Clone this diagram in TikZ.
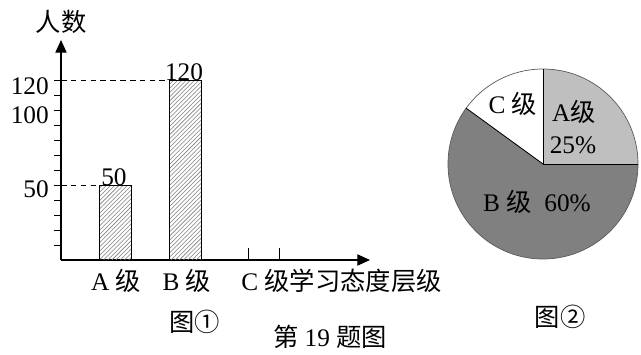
\documentclass[tikz,border=0pt]{standalone}
\usepackage{fontspec}
\setmainfont{Liberation Serif}
\newfontfamily\cjk{Noto Sans CJK SC}
\usetikzlibrary{calc,arrows,arrows.meta,positioning,patterns}

\begin{document}
\begin{tikzpicture}[x=0.025cm,y=-0.025cm,
  every node/.style={font=\fontsize{18}{20}\selectfont, inner sep=0pt},
  axis/.style={line width=0.8pt, -{Triangle[width=8pt,length=9pt]}},
  bar/.style={draw, line width=0.6pt, pattern=north east lines, pattern color=gray},
  guide/.style={dash pattern=on 4pt off 3pt, line width=0.5pt},
  tick/.style={line width=0.6pt}]

  \useasboundingbox (0,0) rectangle (641,355);

  % axes
  \coordinate (origin) at (61,260);
  \coordinate (ytip) at (61,40);
  \coordinate (xtip) at (370,260);
  \draw [axis] (origin) -- (ytip);
  \draw [axis] (origin) -- (xtip);
  \node (ylabel) at (61,22) {\cjk 人数};

  \foreach \v in {1,...,12}
  {
    \draw [tick] ($(origin)+(-7,-15*\v)$) -- ($(origin)+(0,-15*\v)$);
  }
  \node [anchor=east] (yval_120) at (49,86) {120};
  \node [anchor=east] (yval_100) at (49,115) {100};
  \node [anchor=east] (yval_50) at (49,189) {50};

  \foreach \x in {248,279}
  {
    \draw [tick] (\x,260) -- (\x,248);
  }

  % bars
  \foreach \n/\xl/\val in {a/99/50, b/169/120}
  {
    \coordinate (bar_\n_top) at (\xl,{260-1.5*\val});
    \draw [bar] (\xl,260) rectangle ($(bar_\n_top)+(32,0)$);
    \draw [guide] (61,{260-1.5*\val}) -- (bar_\n_top);
    \node [anchor=south] (bar_\n_label) at ($(bar_\n_top)+(15,1)$) {\val};
  }

  \node (xlabel_a) at (116,281) {A {\cjk 级}};
  \node (xlabel_b) at (187,281) {B {\cjk 级}};
  \node [anchor=west] (xlabel_c) at (241,281) {C {\cjk 级学习态度层级}};

  \node (caption_1) at (195,322) {\cjk 图①};
  \node (caption) at (330,337) {{\cjk 第} 19 {\cjk 题图}};

  % pie
  \begin{scope}[shift={(543,164)}, y=0.025cm]
    \fill [gray!50] (0,0) -- (90:95) arc [start angle=90, end angle=0, radius=95] -- cycle;
    \fill [gray] (0,0) -- (0:95) arc [start angle=0, end angle=-216, radius=95] -- cycle;
    \draw [line width=0.5pt, gray!70!black] (0,0) circle [radius=95];
    \coordinate (centre) at (0,0);
    \foreach \a in {90,0,144}
    {
      \draw [line width=0.6pt] (centre) -- (\a:95);
    }
  \end{scope}

  \node (pie_c) at (513,104) {C {\cjk 级}};
  \node (pie_a) at (574,112) {A{\cjk 级}};
  \node (pie_a_pct) at (573,145) {25\%};
  \node (pie_b) at (537,202) {B {\cjk 级}\ \ 60\%};
  \node (caption_2) at (560,317) {\cjk 图②};

\end{tikzpicture}
\end{document}
